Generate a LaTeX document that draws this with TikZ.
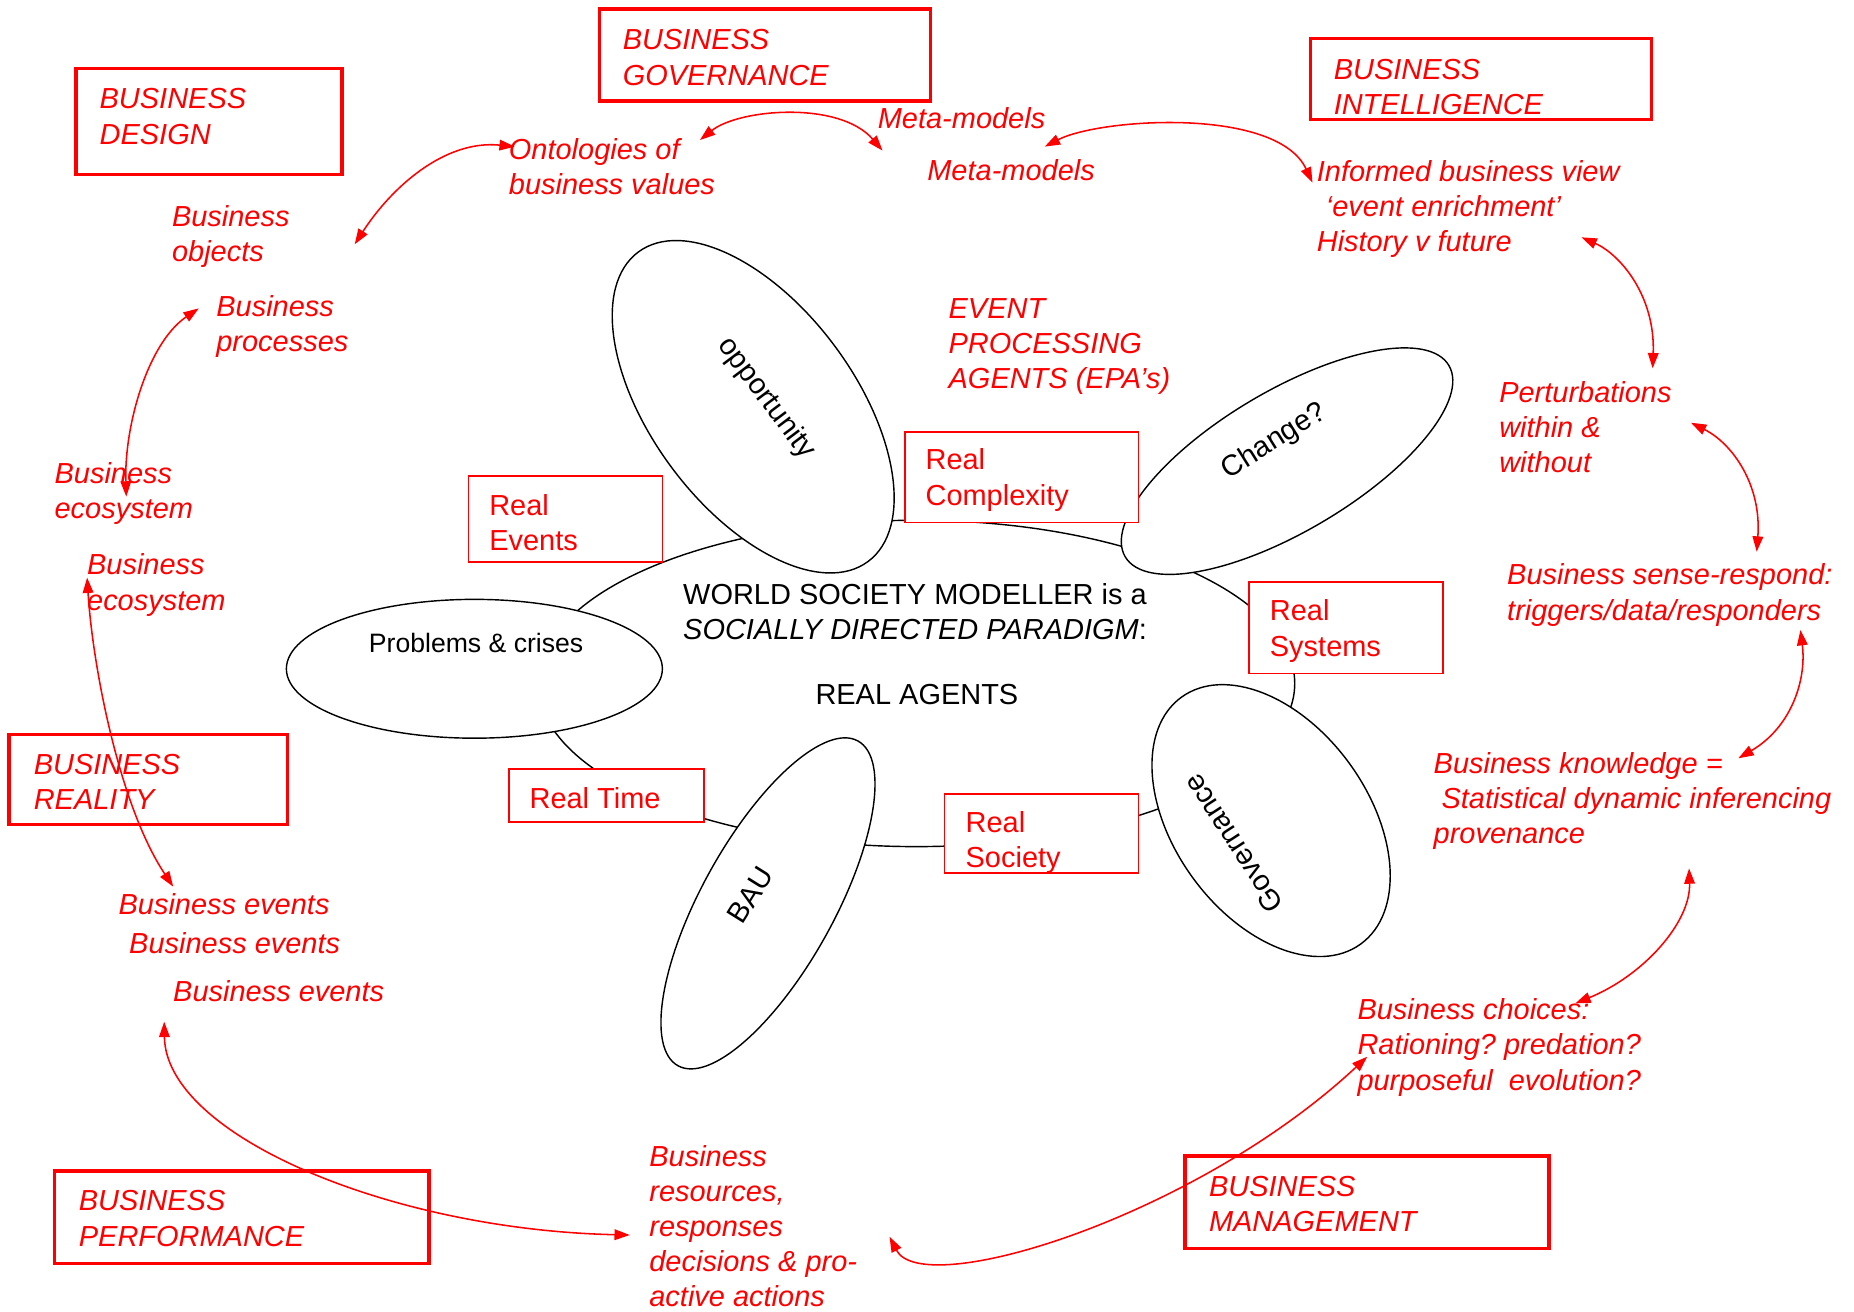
\documentclass[tikz,border=0pt]{standalone}
\usepackage{fontspec}
\setmainfont{Liberation Sans}
\usetikzlibrary{shapes.geometric,arrows.meta}
\frenchspacing
\begin{document}
\begin{tikzpicture}[x=1pt,y=-1pt,
  txt/.style={inner sep=0pt, outer sep=0pt, anchor=base west, align=left, font=\frenchspacing\fontsize{24.5}{29.7}\selectfont},
  redit/.style={txt, text=red, font=\frenchspacing\itshape\fontsize{24.5}{29.7}\selectfont},
  redup/.style={txt, text=red},
  blk/.style={txt, text=black},
  rottxt/.style={inner sep=0pt, text=black, font=\fontsize{24.5}{29.7}\selectfont},
  bigbox/.style={draw=red, line width=3pt, anchor=north west, inner sep=0pt, outer sep=0pt},
  realbox/.style={draw=red, line width=1.5pt, fill=white, anchor=north west, inner sep=0pt, outer sep=0pt},
  blob/.style={ellipse, draw=black, line width=1.2pt, fill=white, inner sep=0pt, outer sep=0pt},
  redarrow/.style={draw=red, line width=1.3pt, {Triangle[length=13pt,width=9pt]}-{Triangle[length=13pt,width=9pt]}},
]
\fill[white] (0,0) rectangle (1568,1109);
\useasboundingbox (0,0) rectangle (1568,1109);

% central world ellipse and agent ellipses
\node[blob, minimum width=640pt, minimum height=276pt] (world) at (775,578) {};
\node[blob, minimum width=318pt, minimum height=117.4pt] (problems) at (401.2,565.6) {};
\node[blob, minimum width=326pt, minimum height=172pt, rotate=-53.4] (opp) at (637,344) {};
\node[blob, minimum width=318pt, minimum height=119pt, rotate=30.6] (change) at (1088.5,390) {};
\node[blob, minimum width=314pt, minimum height=112pt, rotate=61] (bau) at (649.5,764) {};
\node[blob, minimum width=258pt, minimum height=164pt, rotate=-54] (gov) at (1075,694) {};

\node[rottxt, rotate=-53] (opptxt) at (648,337) {opportunity};
\node[rottxt, rotate=32] (changetxt) at (1077.6,373.5) {Change?};
\node[rottxt, rotate=58] (bautxt) at (634.5,757) {BAU};
\node[rottxt, rotate=123] (govtxt) at (1042.9,713.2) {Governance};
\node[blk, font=\fontsize{22.5}{27}\selectfont] (problemstxt) at (312,551.7) {Problems \& crises};

% Real boxes
\node[realbox, minimum width=164pt, minimum height=73pt] (revbox) at (396.2,402.6) {};
\node[realbox, minimum width=197.6pt, minimum height=76.7pt] (rcxbox) at (765.3,365.1) {};
\node[realbox, minimum width=164.6pt, minimum height=77pt] (rsysbox) at (1056,492.5) {};
\node[realbox, minimum width=164.2pt, minimum height=66.8pt] (rsocbox) at (798.7,671.8) {};
\node[realbox, minimum width=165pt, minimum height=44.4pt] (rtimebox) at (430.3,650.6) {};
\node[redup] (revtxt) at (413.8,465.7) {Real\\Events};
\node[redup] (rcxtxt) at (782.8,427.1) {Real\\Complexity};
\node[redup] (rsystxt) at (1074,554.8) {Real\\Systems};
\node[redup] (rsoctxt) at (816.7,733.8) {Real\\Society};
\node[redup] (rtimetxt) at (447.9,683.6) {Real Time};

% centre text
\node[blk] (worldtxt) at (577.8,540.7) {WORLD SOCIETY MODELLER is a\\\textit{SOCIALLY DIRECTED PARADIGM}:};
\node[blk] (agents) at (689.7,595.4) {REAL AGENTS};

% BUSINESS boxes
\node[bigbox, minimum width=225.2pt, minimum height=89.6pt] (designbox) at (64.2,57.8) {};
\node[bigbox, minimum width=280pt, minimum height=78pt] (govbox) at (507,7.5) {};
\node[bigbox, minimum width=288.1pt, minimum height=68.5pt] (intelbox) at (1108.5,32.4) {};
\node[bigbox, minimum width=235.7pt, minimum height=76.2pt] (realitybox) at (7.5,621) {};
\node[bigbox, minimum width=316.5pt, minimum height=78pt] (perfbox) at (46.1,990.4) {};
\node[bigbox, minimum width=308.2pt, minimum height=78pt] (mgmtbox) at (1002,977.7) {};
\node[redit] (designtxt) at (84.3,121.8) {BUSINESS\\DESIGN};
\node[redit] (govtxt2) at (526.7,71.9) {BUSINESS\\GOVERNANCE};
\node[redit] (inteltxt) at (1128,96.7) {BUSINESS\\INTELLIGENCE};
\node[redit] (realitytxt) at (28.6,685) {BUSINESS\\REALITY};
\node[redit] (perftxt) at (66.7,1053.8) {BUSINESS\\PERFORMANCE};
\node[redit] (mgmttxt) at (1022.5,1041.7) {BUSINESS\\MANAGEMENT};

% red italic labels
\node[redit] (meta1) at (742.4,108.5) {Meta-models};
\node[redit] (meta2) at (784.3,153) {Meta-models};
\node[redit] (onto) at (430.4,164.3) {Ontologies of\\business values};
\node[redit] (objects) at (145.5,221.3) {Business\\objects};
\node[redit] (processes) at (183,297.4) {Business\\processes};
\node[redit] (eco1) at (46.2,438.4) {Business\\ecosystem};
\node[redit] (eco2) at (73.7,515.9) {Business\\ecosystem};
\node[redit] (ev1) at (100.3,773.3) {Business events};
\node[redit] (ev2) at (109.3,806.8) {Business events};
\node[redit] (ev3) at (146.5,846.6) {Business events};
\node[redit] (resources) at (549.2,1105.1) {Business\\resources,\\responses\\decisions \& pro-\\active actions};
\node[redit] (choices) at (1148.1,921.9) {Business choices:\\Rationing? predation?\\purposeful\ \ evolution?};
\node[redit] (knowledge) at (1212.5,713.2) {Business knowledge =\\\hspace*{6.7pt}Statistical dynamic inferencing\\provenance};
\node[redit] (sense) at (1274.7,524.4) {Business sense-respond:\\triggers/data/responders};
\node[redit] (perturb) at (1268,399.8) {Perturbations\\within \&\\without};
\node[redit] (informed) at (1113.7,212.9) {Informed business view\\\hspace*{7.7pt}‘event enrichment’\\History v future};
\node[redit] (epa) at (802.3,328.4) {EVENT\\PROCESSING\\AGENTS (EPA’s)};

% arrow end points
\coordinate (a1s) at (300,206.6);   \coordinate (a1e) at (435.4,124);
\coordinate (a2s) at (592,118.4);   \coordinate (a2e) at (746.4,127.4);
\coordinate (a3s) at (883.6,124);   \coordinate (a3e) at (1110,154.5);
\coordinate (a4s) at (1337.5,200.7); \coordinate (a4e) at (1397.7,311.5);
\coordinate (a5s) at (1430.1,357.5); \coordinate (a5e) at (1485.7,466.6);
\coordinate (a6s) at (1522.7,532.8); \coordinate (a6e) at (1470.2,641.3);
\coordinate (a7s) at (1428.5,734.4); \coordinate (a7e) at (1332.3,848.6);
\coordinate (a8s) at (1156.3,893.7); \coordinate (a8e) at (752.3,1045.9);
\coordinate (a9s) at (138.9,864.1);  \coordinate (a9e) at (532.7,1044.5);
\coordinate (a10s) at (168.1,260.8); \coordinate (a10e) at (106.8,420);
\coordinate (a11s) at (73.7,488.5);  \coordinate (a11e) at (146.5,749.9);

\draw[redarrow] (a1s) .. controls (330,160) and (375,118) .. (a1e);
\draw[redarrow] (a2s) .. controls (625,92) and (710,85) .. (a2e);
\draw[redarrow] (a3s) .. controls (930,100) and (1080,90) .. (a3e);
\draw[redarrow] (a4s) .. controls (1370,215) and (1400,250) .. (a4e);
\draw[redarrow] (a5s) .. controls (1465,375) and (1490,410) .. (a5e);
\draw[redarrow] (a6s) .. controls (1528,575) and (1515,615) .. (a6e);
\draw[redarrow] (a7s) .. controls (1430,780) and (1390,825) .. (a7e);
\draw[redarrow] (a8s) .. controls (1010,1030) and (780,1100) .. (a8e);
\draw[redarrow] (a9s) .. controls (140,960) and (330,1040) .. (a9e);
\draw[redarrow] (a10s) .. controls (125,290) and (105,360) .. (a10e);
\draw[redarrow] (a11s) .. controls (78,560) and (100,680) .. (a11e);
\end{tikzpicture}
\end{document}
